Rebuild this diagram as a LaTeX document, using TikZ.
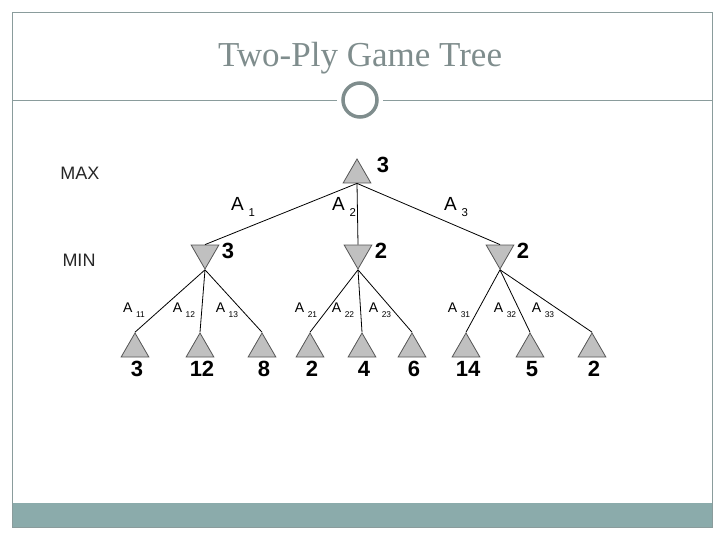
\documentclass[tikz,border=0pt]{standalone}
\usepackage{fontspec}
\setmainfont{Liberation Serif}
\setsansfont{Liberation Sans}
\usetikzlibrary{shapes.geometric,positioning}
\definecolor{frame}{HTML}{8A9C9C}
\definecolor{band}{HTML}{8BABAB}
\definecolor{titlegray}{HTML}{7F8D8D}
\definecolor{nodefill}{HTML}{C0C0C0}
\definecolor{nodeline}{HTML}{555555}
\newcommand\mvlabel[1]{A\kern0.25em\raisebox{-0.36em}{\scalebox{0.6}{#1}}}
\tikzset{
  maxnode/.style={regular polygon,regular polygon sides=3,minimum size=32pt,inner sep=0pt,draw=nodeline,fill=nodefill,line width=0.8pt},
  minnode/.style={maxnode,shape border rotate=180},
  value/.style={font=\sffamily\bfseries\fontsize{22}{22}\selectfont,inner sep=2pt},
  ply/.style={font=\sffamily\fontsize{18}{18}\selectfont,text=black!85},
  bigmove/.style={font=\sffamily\fontsize{19}{19}\selectfont,inner sep=0pt},
  smallmove/.style={font=\sffamily\fontsize{14}{14}\selectfont,inner sep=0pt},
  edge/.style={line width=0.8pt,draw=black}
}
\begin{document}
\begin{tikzpicture}[x=1pt,y=-1pt]
  \useasboundingbox (0,0) rectangle (720,540);
  % slide frame
  \fill[band] (12,503) rectangle (712,527);
  \draw[frame,line width=0.8pt] (12,12) rectangle (712,527);
  \node[font=\fontsize{35}{35}\selectfont,text=titlegray] (title) at (360,58) {Two-Ply Game Tree};
  \node[circle,draw=titlegray,line width=3.5pt,minimum size=34pt,inner sep=0pt] (ring) at (360,100) {};
  \draw[frame,line width=0.8pt,shorten >=4pt] (12,100) -- (ring.west);
  \draw[frame,line width=0.8pt,shorten >=4pt] (712,100) -- (ring.east);
  % plies
  \node[ply] (maxply) at (80,173) {MAX};
  \node[ply] (minply) at (79,260) {MIN};
  % tree
  \node[maxnode] (root) at (357,175) {};
  \node[value] (rootval) at (383,165) {3};
  \foreach \n/\x/\v in {mina/205/3,minb/358/2,minc/500/2}{
    \node[minnode] (\n) at (\x,253) {};
    \node[value] (\n val) at (\x+23,251) {\v};
  }
  \foreach \n/\x/\v in {la/135/3,lb/200/12,lc/262/8,ld/310/2,le/362/4,lf/412/6,lg/466/14,lh/530/5,li/592/2}{
    \node[maxnode] (\n) at (\x,349) {};
    \node[value,below=2pt of \n,xshift=2pt] (\n val) {\v};
  }
  \foreach \a/\b in {root/mina,root/minb,root/minc}
    \draw[edge] (\a.south) -- (\b.north);
  \foreach \a/\b in {mina/la,mina/lb,mina/lc,minb/ld,minb/le,minb/lf,minc/lg,minc/lh,minc/li}
    \draw[edge] (\a.south) -- (\b.north);
  % move labels
  \foreach \n/\x/\s in {mva/243/1,mvb/344/2,mvc/456/3}
    \node[bigmove] (\n) at (\x,207) {\mvlabel{\s}};
  \foreach \n/\x/\s in {mvaa/134/11,mvab/184/12,mvac/227/13,mvba/306/21,mvbb/343/22,mvbc/380/23,mvca/459/31,mvcb/505/32,mvcc/543/33}
    \node[smallmove] (\n) at (\x,310) {\mvlabel{\s}};
\end{tikzpicture}
\end{document}
